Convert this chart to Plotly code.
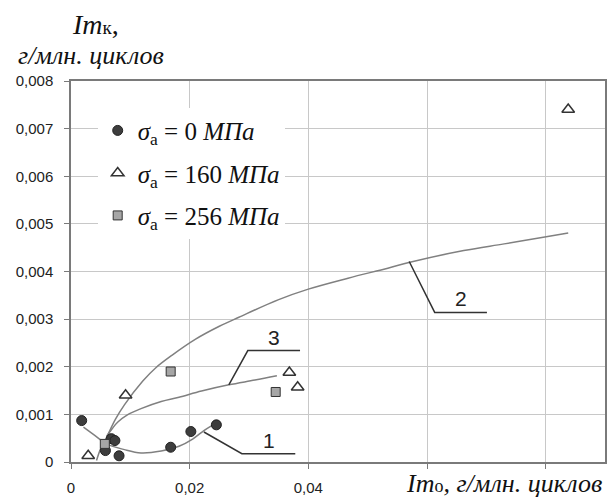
import plotly.graph_objects as go

# ---- data ----
s0_x = [0.0018, 0.0058, 0.0068, 0.0074, 0.0081, 0.0168, 0.0202, 0.0245]
s0_y = [0.00087, 0.00024, 0.00049, 0.00045, 0.00013, 0.00031, 0.00064, 0.00078]

s160_x = [0.0029, 0.0092, 0.0368, 0.0382, 0.0838]
s160_y = [0.00013, 0.00140, 0.00188, 0.00157, 0.00740]

s256_x = [0.0057, 0.0168, 0.0345]
s256_y = [0.00038, 0.00190, 0.00147]

c1_x = [0.0021, 0.0040, 0.0060, 0.0090, 0.0118, 0.0152, 0.0182, 0.0205, 0.0224, 0.0238]
c1_y = [0.00073, 0.00056, 0.00038, 0.00026, 0.00019, 0.00023, 0.00033, 0.00048, 0.00066, 0.00077]

c2_x = [0.0043, 0.0050, 0.0060, 0.0075, 0.0090, 0.0121, 0.0143, 0.0170, 0.0210, 0.0250,
        0.0283, 0.0350, 0.0400, 0.0467, 0.0534, 0.0573, 0.0662, 0.0730, 0.0796, 0.0838]
c2_y = [0.00003, 0.00028, 0.00052, 0.00090, 0.00120, 0.00170, 0.00198, 0.00224, 0.00258, 0.00285,
        0.00304, 0.00341, 0.00363, 0.00386, 0.00407, 0.00420, 0.00444, 0.00458, 0.00472, 0.00481]

c3_x = [0.0060, 0.0070, 0.0079, 0.0095, 0.0118, 0.0152, 0.0182, 0.0220, 0.0266, 0.0310, 0.0347]
c3_y = [0.00054, 0.00071, 0.00084, 0.00099, 0.00112, 0.00127, 0.00136, 0.00149, 0.00162, 0.00172, 0.00181]

# leader lines for curve labels (data units)
lead1_x = [0.0224, 0.0288, 0.0378]
lead1_y = [0.00063, 0.000174, 0.000174]
lead2_x = [0.0570, 0.0613, 0.0701]
lead2_y = [0.00421, 0.00314, 0.00314]
lead3_x = [0.0266, 0.0298, 0.0386]
lead3_y = [0.00162, 0.00234, 0.00234]
curve_labels = ["1", "2", "3"]

y_ticks = [0, 0.001, 0.002, 0.003, 0.004, 0.005, 0.006, 0.007, 0.008]
y_ticktext = ["0", "0,001", "0,002", "0,003", "0,004", "0,005", "0,006", "0,007", "0,008"]
x_ticks = [0, 0.02, 0.04, 0.06, 0.08]
x_ticktext = ["0", "0,02", "0,04", "", ""]

legend_names = [
    "<i>σ</i><sub>a</sub> = 0 <i>МПа</i>",
    "<i>σ</i><sub>a</sub> = 160 <i>МПа</i>",
    "<i>σ</i><sub>a</sub> = 256 <i>МПа</i>",
]

CURVE = "#808080"
LEAD = "#333333"
SERIF = "Liberation Serif"
SANS = "Liberation Sans"

fig = go.Figure()

# trend curves
for cx, cy in [(c1_x, c1_y), (c2_x, c2_y), (c3_x, c3_y)]:
    fig.add_trace(go.Scatter(x=cx, y=cy, mode="lines", line=dict(color=CURVE, width=1.5, shape="spline"),
                             showlegend=False, hoverinfo="skip"))

# leader lines
for lx, ly in [(lead1_x, lead1_y), (lead2_x, lead2_y), (lead3_x, lead3_y)]:
    fig.add_trace(go.Scatter(x=lx, y=ly, mode="lines", line=dict(color=LEAD, width=1.5),
                             showlegend=False, hoverinfo="skip"))

# data points
fig.add_trace(go.Scatter(x=s0_x, y=s0_y, mode="markers", name=legend_names[0], legendgroup="a",
                         marker=dict(symbol="circle", size=10, color="#3d3d3d", line=dict(color="#222", width=1))))
fig.add_trace(go.Scatter(x=s160_x, y=s160_y, mode="markers", name=legend_names[1], legendgroup="b",
                         marker=dict(symbol="triangle-up", size=11, color="white", line=dict(color="#333", width=1.5))))
fig.add_trace(go.Scatter(x=s256_x, y=s256_y, mode="markers", name=legend_names[2], legendgroup="c",
                         marker=dict(symbol="square", size=9, color="#a6a6a6", line=dict(color="#333", width=1))))

# label texts
for lab, lx, ly in zip(curve_labels, [lead1_x, lead2_x, lead3_x], [lead1_y, lead2_y, lead3_y]):
    fig.add_annotation(x=(lx[1] + lx[2]) / 2, y=ly[2], text=lab, showarrow=False, xanchor="center",
                       yanchor="bottom", yshift=0, font=dict(family=SANS, size=21, color="#222"))

# axis titles
fig.add_annotation(xref="paper", yref="paper", x=0.045, y=1.147,
                   text="<i>Im</i><span style='font-size:19px'>к</span>,",
                   showarrow=False, xanchor="center", yanchor="middle",
                   font=dict(family=SERIF, size=28, color="#111"))
fig.add_annotation(xref="paper", yref="paper", x=0.038, y=1.066, text="<i>г/млн. циклов</i>",
                   showarrow=False, xanchor="center", yanchor="middle",
                   font=dict(family=SERIF, size=26, color="#111"))
fig.add_annotation(xref="paper", yref="paper", x=0.998, y=-0.057,
                   text="<i>Im</i><span style='font-size:18px'>о</span><i>, г/млн. циклов</i>",
                   showarrow=False, xanchor="right", yanchor="middle",
                   font=dict(family=SERIF, size=26, color="#111"))

axis_common = dict(showline=True, linecolor="#7a7a7a", linewidth=1.5, mirror=True,
                   showgrid=True, gridcolor="#c8c8c8", gridwidth=1, zeroline=False,
                   ticks="outside", ticklen=5, tickcolor="#7a7a7a", tickwidth=1,
                   tickfont=dict(family=SANS, size=15, color="#222"))

fig.update_xaxes(range=[0, 0.09], tickvals=x_ticks, ticktext=x_ticktext, ticklabelstandoff=6, **axis_common)
fig.update_yaxes(range=[0, 0.008], tickvals=y_ticks, ticktext=y_ticktext, ticklabelstandoff=8, **axis_common)

fig.update_layout(
    width=609, height=498,
    margin=dict(l=71, r=2, t=81, b=35),
    plot_bgcolor="white", paper_bgcolor="white",
    separators=", ",
    showlegend=True,
    legend=dict(x=0.05, y=0.93, xanchor="left", yanchor="top", bgcolor="white",
                font=dict(family=SERIF, size=25, color="#111"), tracegroupgap=7,
                borderwidth=0),
)

fig.write_html("out.html")
